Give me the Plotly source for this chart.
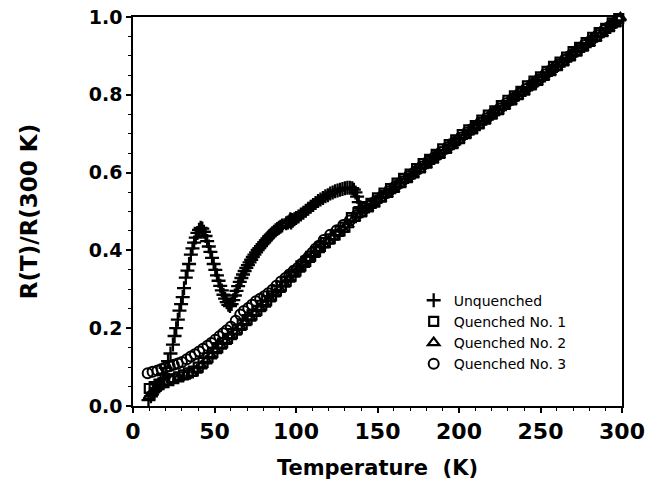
import plotly.graph_objects as go

# ---- data ----
T_unq = [9.5, 11, 12.5, 14, 15.5, 17, 18.5, 20, 21.5, 23, 24.5, 25.5, 26.5, 27.5, 28.5, 29.5, 30.5,
         31.3, 32.4, 33.4, 34.4, 35.5, 36.5, 37.5, 38.5, 39.5, 40.5, 41.5, 42.5, 43.5, 44.5, 45.5,
         46.5, 47.5, 48.5, 49.5, 50.5, 51.5, 52.5, 53.5, 54.5, 55.5, 56.5, 57.5, 58.5, 59.5, 60.5,
         61.5, 62.5, 63.5, 64.5, 65.5, 66.5, 67.5, 68.5, 69.5, 70.5, 71.5, 72.5, 73.5, 74.5, 75.5,
         76.5, 77.5, 78.5, 79.5, 80.5, 81.5, 82.5, 83.5, 84.5, 85.5, 86.5, 87.5, 88.5, 89.5, 90.5,
         91.5, 94, 95, 96, 96.5, 97, 97.5, 98, 99, 100, 101.5, 103, 104.5, 106, 107.5, 109, 110.5,
         112, 113.5, 115, 116.5, 118, 119.5, 121, 122.5, 124, 125.5, 127, 128.5, 130, 131.5, 133,
         134.5, 135.5, 136.5, 137.5, 138.5, 139.5, 140.5, 143, 146, 149, 152, 155, 158, 161, 164,
         167, 170, 173, 176, 179, 182, 185, 188, 191, 194, 197, 200, 203, 206, 209, 212, 215, 218,
         221, 224, 227, 230, 233, 236, 239, 242, 245, 248, 251, 254, 257, 260, 263, 266, 269, 272,
         275, 278, 281, 284, 287, 290, 293, 296]
R_unq = [0.015, 0.025, 0.035, 0.045, 0.055, 0.068, 0.082, 0.098, 0.115, 0.135, 0.158, 0.18, 0.2,
         0.222, 0.245, 0.262, 0.28, 0.303, 0.33, 0.348, 0.365, 0.389, 0.405, 0.42, 0.433, 0.445,
         0.453, 0.458, 0.456, 0.448, 0.437, 0.424, 0.41, 0.396, 0.381, 0.365, 0.35, 0.336, 0.322,
         0.309, 0.297, 0.286, 0.276, 0.267, 0.26, 0.257, 0.262, 0.272, 0.284, 0.296, 0.308, 0.319,
         0.329, 0.338, 0.347, 0.355, 0.362, 0.369, 0.376, 0.383, 0.389, 0.395, 0.401, 0.406, 0.411,
         0.416, 0.421, 0.426, 0.431, 0.436, 0.44, 0.444, 0.448, 0.452, 0.455, 0.458, 0.461, 0.464,
         0.47, 0.472, 0.475, 0.48, 0.472, 0.478, 0.476, 0.48, 0.483, 0.487, 0.492, 0.497, 0.502,
         0.507, 0.512, 0.517, 0.522, 0.527, 0.531, 0.535, 0.539, 0.542, 0.546, 0.549, 0.552, 0.554,
         0.556, 0.558, 0.56, 0.561, 0.561, 0.56, 0.556, 0.549, 0.538, 0.524, 0.511, 0.503, 0.509,
         0.518, 0.526, 0.537, 0.547, 0.556, 0.564, 0.575, 0.584, 0.592, 0.603, 0.613, 0.621, 0.63,
         0.641, 0.649, 0.658, 0.669, 0.678, 0.686, 0.697, 0.706, 0.714, 0.725, 0.734, 0.742, 0.753,
         0.763, 0.771, 0.78, 0.791, 0.8, 0.808, 0.819, 0.828, 0.836, 0.847, 0.857, 0.865, 0.874,
         0.885, 0.894, 0.902, 0.913, 0.922, 0.93, 0.941, 0.951, 0.959, 0.968, 0.979, 0.987]

T_q1 = [10, 13, 16, 19, 22, 25, 28, 31, 34, 37, 40, 43, 46, 49, 52, 55, 58, 61, 64, 67, 70, 73, 76,
        79, 82, 85, 88, 91, 94, 97, 100, 103, 106, 109, 112, 115, 118, 121, 124, 127, 130, 134, 138,
        142, 146, 150, 154, 158, 162, 166, 170, 174, 178, 182, 186, 190, 194, 198, 202, 206, 210,
        214, 218, 222, 226, 230, 234, 238, 242, 246, 250, 254, 258, 262, 266, 270, 274, 278, 282,
        286, 290, 294, 298]
R_q1 = [0.045, 0.05, 0.055, 0.06, 0.065, 0.07, 0.075, 0.08, 0.085, 0.09, 0.1, 0.112, 0.125, 0.138,
        0.15, 0.162, 0.174, 0.186, 0.198, 0.21, 0.222, 0.234, 0.246, 0.259, 0.271, 0.283, 0.296,
        0.308, 0.321, 0.334, 0.347, 0.36, 0.372, 0.385, 0.397, 0.41, 0.42, 0.43, 0.44, 0.45, 0.46,
        0.484, 0.497, 0.509, 0.521, 0.535, 0.547, 0.559, 0.573, 0.585, 0.596, 0.61, 0.623, 0.634,
        0.647, 0.661, 0.672, 0.684, 0.698, 0.71, 0.721, 0.735, 0.748, 0.759, 0.772, 0.786, 0.797,
        0.809, 0.823, 0.835, 0.846, 0.86, 0.873, 0.884, 0.897, 0.911, 0.922, 0.934, 0.948, 0.96,
        0.971, 0.985, 0.996]

T_q2 = [10, 12, 14, 17, 20, 24, 28, 32, 36, 39, 42, 45, 48, 51, 54, 57, 60, 63, 66, 69, 72, 75, 78,
        81, 84, 87, 90, 93, 96, 99, 102, 105, 108, 111, 114, 117, 120, 123, 126, 129, 132, 136, 140,
        144, 148, 152, 156, 160, 164, 168, 172, 176, 180, 184, 188, 192, 196, 200, 204, 208, 212,
        216, 220, 224, 228, 232, 236, 240, 244, 248, 252, 256, 260, 264, 268, 272, 276, 280, 284,
        288, 292, 296, 299]
R_q2 = [0.025, 0.035, 0.045, 0.055, 0.062, 0.068, 0.072, 0.077, 0.084, 0.092, 0.103, 0.116, 0.129,
        0.142, 0.154, 0.166, 0.178, 0.19, 0.202, 0.214, 0.226, 0.238, 0.25, 0.262, 0.275, 0.288,
        0.3, 0.313, 0.326, 0.339, 0.352, 0.364, 0.377, 0.39, 0.402, 0.414, 0.424, 0.434, 0.444,
        0.454, 0.466, 0.482, 0.494, 0.507, 0.519, 0.532, 0.544, 0.557, 0.569, 0.582, 0.594, 0.607,
        0.619, 0.632, 0.644, 0.657, 0.669, 0.682, 0.695, 0.707, 0.72, 0.732, 0.745, 0.757, 0.77,
        0.782, 0.795, 0.807, 0.82, 0.832, 0.845, 0.857, 0.87, 0.882, 0.895, 0.907, 0.92, 0.932,
        0.945, 0.957, 0.97, 0.982, 0.998]

T_q3 = [9, 12, 15, 17.5, 20, 22.5, 25, 27.5, 30, 33, 35.5, 38, 40.6, 43, 45.7, 48, 50.4, 53, 55.3,
        57.5, 60, 63, 65.8, 68, 70.7, 73, 75.4, 78, 80.5, 83, 85.6, 88, 90.8, 93.5, 95.9, 98.5, 101,
        103.5, 106, 108, 110, 112, 114, 117, 121, 125, 129, 133, 137, 141, 145, 149, 153, 157, 161,
        165, 169, 173, 177, 181, 185, 189, 193, 197, 201, 205, 209, 213, 217, 221, 225, 229, 233,
        237, 241, 245, 249, 253, 257, 261, 265, 269, 273, 277, 281, 285, 289, 293, 297]
R_q3 = [0.084, 0.088, 0.091, 0.095, 0.099, 0.102, 0.106, 0.109, 0.113, 0.12, 0.127, 0.133, 0.14,
        0.147, 0.155, 0.162, 0.17, 0.179, 0.187, 0.195, 0.204, 0.219, 0.235, 0.244, 0.252, 0.26,
        0.269, 0.276, 0.282, 0.29, 0.299, 0.309, 0.32, 0.329, 0.338, 0.347, 0.355, 0.366, 0.376,
        0.385, 0.394, 0.404, 0.412, 0.427, 0.44, 0.452, 0.465, 0.477, 0.49, 0.502, 0.515, 0.527,
        0.54, 0.552, 0.565, 0.577, 0.59, 0.602, 0.615, 0.628, 0.64, 0.653, 0.665, 0.678, 0.69,
        0.703, 0.715, 0.728, 0.74, 0.753, 0.765, 0.778, 0.79, 0.803, 0.815, 0.828, 0.84, 0.853,
        0.865, 0.878, 0.89, 0.903, 0.915, 0.928, 0.94, 0.953, 0.966, 0.978, 0.991]

x_ticks = [0, 50, 100, 150, 200, 250, 300]
y_ticks = [0.0, 0.2, 0.4, 0.6, 0.8, 1.0]
y_ticklabels = ["0.0", "0.2", "0.4", "0.6", "0.8", "1.0"]

BOLD = "DejaVu Sans"

fig = go.Figure()
fig.add_trace(go.Scatter(x=T_unq, y=R_unq, mode="markers", name="Unquenched", cliponaxis=False,
                         marker=dict(symbol="cross-thin", size=10, color="black",
                                     line=dict(color="black", width=2.3))))
fig.add_trace(go.Scatter(x=T_q1, y=R_q1, mode="markers", name="Quenched No. 1", cliponaxis=False,
                         marker=dict(symbol="square-open", size=9, color="black",
                                     line=dict(width=2.2))))
fig.add_trace(go.Scatter(x=T_q2, y=R_q2, mode="markers", name="Quenched No. 2", cliponaxis=False,
                         marker=dict(symbol="triangle-up-open", size=10, color="black",
                                     line=dict(width=2.2))))
fig.add_trace(go.Scatter(x=T_q3, y=R_q3, mode="markers", name="Quenched No. 3", cliponaxis=False,
                         marker=dict(symbol="circle-open", size=10, color="black",
                                     line=dict(width=2))))

fig.update_layout(
    width=650, height=483,
    margin=dict(l=133, r=28, t=17, b=77),
    paper_bgcolor="white", plot_bgcolor="white",
    font=dict(family=BOLD, color="black"),
    showlegend=True,
    legend=dict(x=0.574, y=0.312, xanchor="left", yanchor="top",
                bgcolor="rgba(0,0,0,0)", borderwidth=0,
                font=dict(family="DejaVu Sans", size=14, color="black"),
                tracegroupgap=0, itemwidth=30),
    xaxis=dict(range=[0, 300], tickvals=x_ticks, ticktext=[str(v) for v in x_ticks],
               automargin=False,
               showgrid=False, zeroline=False, showline=True, linecolor="black", linewidth=1.5,
               mirror=True, ticks="outside", ticklen=5, tickwidth=1.5, tickcolor="black",
               minor=dict(dtick=10, ticks="outside", ticklen=3, tickwidth=1, tickcolor="black"),
               tickfont=dict(family=BOLD, size=22, weight="bold"),
               title=dict(text="Temperature\u00a0 (K)", font=dict(family=BOLD, size=21, weight="bold"),
                          standoff=17)),
    yaxis=dict(range=[0, 1.0], tickvals=y_ticks, ticktext=y_ticklabels,
               automargin=False,
               showgrid=False, zeroline=False, showline=True, linecolor="black", linewidth=1.5,
               mirror=True, ticks="outside", ticklen=5, tickwidth=1.5, tickcolor="black",
               minor=dict(dtick=0.05, ticks="outside", ticklen=3, tickwidth=1, tickcolor="black"),
               tickfont=dict(family=BOLD, size=19, weight="bold"),
               title=dict(text="R(T)/R(300 K)", font=dict(family=BOLD, size=23, weight="bold"),
                          standoff=45)),
)

fig.write_html("out.html", config={"displayModeBar": False},
               post_script="document.body.style.margin='0';")
